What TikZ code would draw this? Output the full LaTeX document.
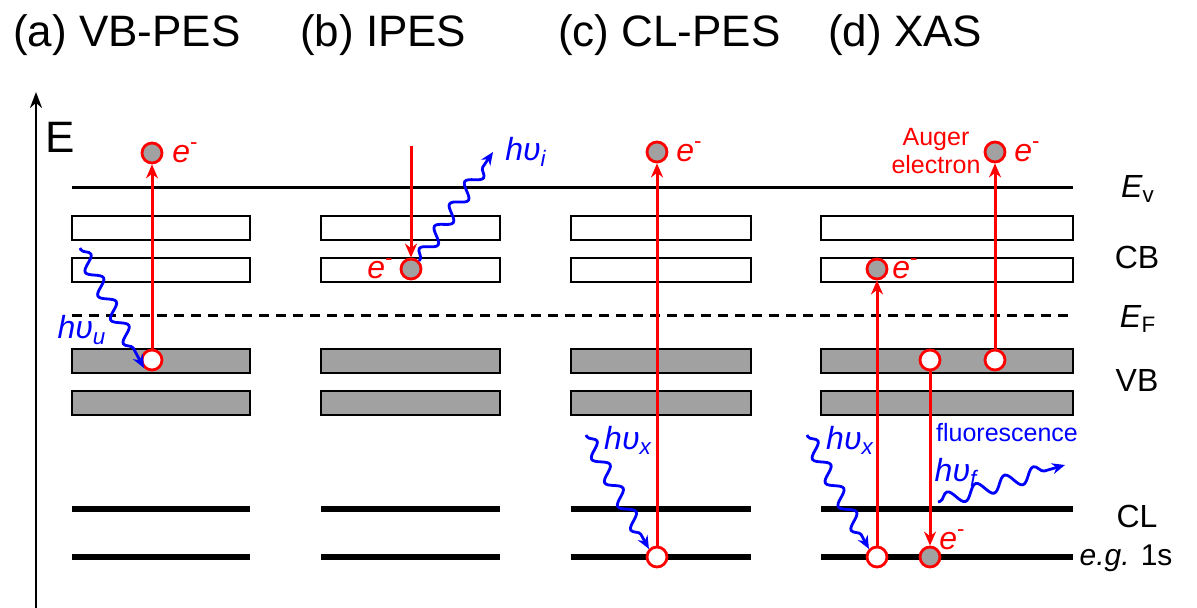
\documentclass[tikz,border=0pt]{standalone}
\usepackage{fontspec}
\setmainfont{Liberation Sans}
\usetikzlibrary{arrows.meta,decorations.pathmorphing}
\newcommand{\eminus}{\textit{e}\textsuperscript{-}}
\begin{document}
\begin{tikzpicture}[x=0.5pt,y=-0.5pt,
  cbbox/.style={draw=black, line width=1pt, fill=white},
  vbbox/.style={draw=black, line width=1pt, fill=black!37},
  clline/.style={line width=3pt},
  hole/.style={circle, draw=red, fill=white, line width=1.4pt, minimum size=10pt, inner sep=0pt},
  elec/.style={circle, draw=red, fill=black!37, line width=1.4pt, minimum size=10pt, inner sep=0pt},
  trans/.style={red, line width=1.5pt, -{Stealth[length=7pt,width=6pt]}},
  photon/.style={blue, line width=1.4pt, decorate,
     decoration={snake, amplitude=3.4pt, segment length=13.5pt, post length=5pt, pre length=1pt},
     -{Stealth[length=6.5pt,width=5.5pt]}},
  title/.style={font=\fontsize{22}{26}\selectfont, anchor=base west},
  side/.style={font=\fontsize{16}{19}\selectfont},
  elab/.style={red, font=\fontsize{16}{19}\selectfont, inner sep=0pt},
  hlab/.style={blue, font=\fontsize{16}{19}\selectfont\itshape, inner sep=0pt},
  small/.style={font=\fontsize{12.5}{14}\selectfont, align=center, inner sep=0pt}
]
\useasboundingbox (0,0) rectangle (1197,608);

% titles
\node[title] (ta) at (6,47) {(a) VB-PES};
\node[title] (tb) at (293,47) {(b) IPES};
\node[title] (tc) at (551,47) {(c) CL-PES};
\node[title] (td) at (821,47) {(d) XAS};

% energy axis
\coordinate (ax0) at (36,608);
\coordinate (ax1) at (36,92);
\draw[line width=1.4pt, -{Stealth[length=8pt,width=6pt]}] (ax0) -- (ax1);
\node[font=\fontsize{22}{26}\selectfont] (elabel) at (60,137) {E};

% bands
\foreach \l/\r in {72/250,321/500,571/751,821/1073}{
  \draw[cbbox] (\l,216) rectangle (\r,240);
  \draw[cbbox] (\l,258) rectangle (\r,282);
  \draw[vbbox] (\l,349) rectangle (\r,373);
  \draw[vbbox] (\l,391) rectangle (\r,415);
  \draw[clline] (\l,509) -- (\r,509);
  \draw[clline] (\l,557) -- (\r,557);
}
\draw[line width=1.5pt] (72,188) -- (1073,188);
\draw[line width=1.5pt, dash pattern=on 5pt off 3.5pt] (72,316) -- (1073,316);

% right labels
\node[side] (lev) at (1138,189) {\textit{E}\textsubscript{v}};
\node[side] (lcb) at (1137,257) {CB};
\node[side] (lef) at (1138,319) {\textit{E}\textsubscript{F}};
\node[side] (lvb) at (1137,380) {VB};
\node[side] (lcl) at (1137,516) {CL};
\node[side, font=\fontsize{15}{18}\selectfont] (l1s) at (1126,558) {\textit{e.g.} 1s};

% (a) VB-PES
\node[hole] (a1) at (152,360) {};
\node[elec] (a2) at (152,153) {};
\draw[trans] (a1) -- (a2);
\node[elab, anchor=west] (ea) at (172,153) {\eminus};
\coordinate (pa0) at (80,248);
\draw[photon] (pa0) -- (a1.south west);
\node[hlab] (ha) at (82,330) {hυ\textsubscript{u}};

% (b) IPES
\coordinate (b0) at (411,146);
\node[elec] (b1) at (411,269) {};
\draw[trans] (b0) -- (b1);
\node[elab, anchor=east] (eb) at (394,269) {\eminus};
\coordinate (pb1) at (493,152);
\draw[photon] (b1.north east) -- (pb1);
\node[hlab] (hb) at (526,152) {hυ\textsubscript{i}};

% (c) CL-PES
\node[hole] (c1) at (657,557) {};
\node[elec] (c2) at (657,152) {};
\draw[trans] (c1) -- (c2);
\node[elab, anchor=west] (ec) at (676,152) {\eminus};
\coordinate (pc0) at (586,435);
\draw[photon] (pc0) -- (c1.north west);
\node[hlab] (hc) at (628,440) {hυ\textsubscript{x}};

% (d) XAS
\node[hole] (d1) at (877,557) {};
\node[elec] (d2) at (877,269) {};
\draw[trans] (d1) -- (d2);
\node[elab, anchor=west] (ed2) at (892,269) {\eminus};
\node[hole] (d3) at (930,360) {};
\node[elec] (d4) at (930,557) {};
\draw[trans] (d3) -- (d4);
\node[elab, anchor=west] (ed4) at (939,540) {\eminus};
\node[hole] (d5) at (995,360) {};
\node[elec] (d6) at (995,152) {};
\draw[trans] (d5) -- (d6);
\node[elab, anchor=west] (ed6) at (1014,152) {\eminus};
\node[small, red] (auger) at (936,151) {Auger\\electron};
\coordinate (pd0) at (807,435);
\draw[photon] (pd0) -- (d1.north west);
\node[hlab] (hd) at (850,440) {hυ\textsubscript{x}};
\node[small, blue] (fluo) at (1007,433) {fluorescence};
\node[hlab] (hf) at (956,472) {hυ\textsubscript{f}};
\coordinate (pf0) at (938,502);
\coordinate (pf1) at (1065,465);
\draw[photon, decoration={snake, amplitude=3.6pt, segment length=15pt, post length=5pt}] (pf0) -- (pf1);
\end{tikzpicture}
\end{document}
